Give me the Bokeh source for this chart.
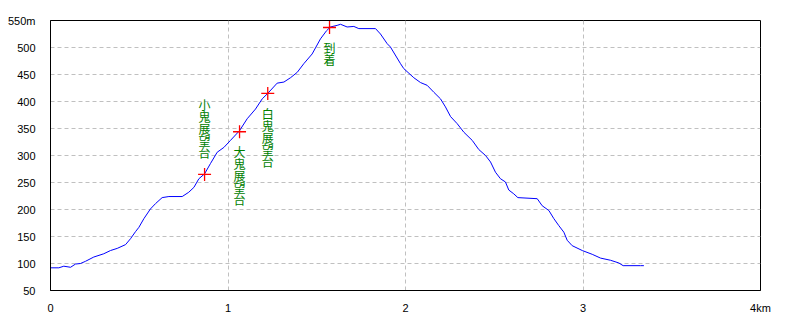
from bokeh.plotting import figure
from bokeh.models import Range1d, FixedTicker, ColumnDataSource
from bokeh.core.properties import value
from bokeh.embed import file_html
from bokeh.resources import INLINE

# elevation profile (distance km, elevation m)
dist = [0.0, 0.047, 0.075, 0.113, 0.141, 0.169, 0.197, 0.244, 0.300, 0.338, 0.376, 0.423,
        0.451, 0.479, 0.498, 0.526, 0.563, 0.592, 0.629, 0.667, 0.742, 0.779, 0.808, 0.836,
        0.868, 0.901, 0.939, 0.977, 1.014, 1.065, 1.108, 1.155, 1.193, 1.224, 1.277, 1.315,
        1.352, 1.390, 1.427, 1.474, 1.521, 1.555, 1.577, 1.615, 1.634, 1.671, 1.709, 1.737,
        1.831, 1.859, 1.897, 1.915, 1.972, 1.990, 2.047, 2.085, 2.122, 2.160, 2.197, 2.225,
        2.254, 2.291, 2.329, 2.376, 2.413, 2.451, 2.479, 2.507, 2.535, 2.563, 2.582, 2.610,
        2.633, 2.742, 2.770, 2.808, 2.836, 2.864, 2.892, 2.911, 2.939, 2.996, 3.052, 3.099,
        3.155, 3.202, 3.226, 3.324, 3.343]
elev = [92, 92, 95, 93, 99, 100, 104, 112, 118, 124, 128, 135,
        146, 159, 167, 183, 201, 211, 222, 224, 224, 232, 241, 257,
        266, 285, 306, 315, 328, 346, 368, 386, 405, 415, 434, 436,
        444, 454, 470, 488, 516, 531, 538, 541, 543, 538, 539, 535,
        535, 525, 507, 501, 470, 461, 444, 435, 430, 417, 405, 390,
        372, 359, 343, 328, 311, 300, 288, 269, 257, 251, 236, 229,
        222, 220, 207, 198, 183, 170, 158, 143, 133, 124, 117, 110,
        106, 101, 96, 96, 96]

# waypoints
wp_names = ["小鬼展望台", "大鬼展望台", "白鬼展望台", "到着"]
wp_dist = [0.868, 1.065, 1.224, 1.572]
wp_elev = [265, 344, 415, 537]
wp_label_above = [True, False, False, False]

x_ticks = [0, 1, 2, 3, 4]
y_ticks = [50, 100, 150, 200, 250, 300, 350, 400, 450, 500, 550]

p = figure(width=800, height=320, output_backend="svg", toolbar_location=None,
           x_range=Range1d(0, 4), y_range=Range1d(50, 550),
           min_border_left=50, min_border_right=40, min_border_top=20, min_border_bottom=30)
p.background_fill_color = "white"
p.border_fill_color = "white"
p.outline_line_color = "black"
p.outline_line_width = 1

for ax, ticks, over in ((p.xaxis[0], x_ticks, {4: "4km"}), (p.yaxis[0], y_ticks, {550: "550m"})):
    ax.ticker = FixedTicker(ticks=ticks)
    ax.major_label_overrides = over
    ax.major_tick_line_color = None
    ax.minor_tick_line_color = None
    ax.axis_line_color = "black"
    ax.axis_line_width = 1
    ax.major_label_text_font = "Liberation Sans"
    ax.major_label_text_font_size = "11px"
    ax.major_label_text_color = "black"
p.xaxis.major_label_standoff = 5
p.yaxis.major_label_standoff = 9

p.xgrid.ticker = FixedTicker(ticks=x_ticks)
p.ygrid.ticker = FixedTicker(ticks=y_ticks)
for g in (p.xgrid, p.ygrid):
    g.grid_line_color = "#c0c0c0"
    g.grid_line_dash = "4 3"
    g.grid_line_width = 1

p.line(dist, elev, line_color="#0000ff", line_width=1)

# vertical labels: one glyph per character, stacked with pixel offsets
step = 12.0
cx, cy, ct, co = [], [], [], []
for name, d, e, above in zip(wp_names, wp_dist, wp_elev, wp_label_above):
    n = len(name)
    for i, ch in enumerate(name):
        cx.append(d)
        cy.append(e)
        ct.append(ch)
        co.append(-22 - (n - 1 - i) * step if above else 20 + i * step)
lab = ColumnDataSource(dict(x=cx, y=cy, t=ct, yo=co))

p.scatter(wp_dist, wp_elev, marker="cross", size=13, line_color="red", line_width=1.3)
p.text("x", "y", text="t", source=lab, text_align="center", text_baseline="middle",
       y_offset="yo", text_color="#008000", text_font=value("Noto Sans CJK JP"),
       text_font_size="12px")

open("out.html", "w").write(file_html(p, INLINE))
